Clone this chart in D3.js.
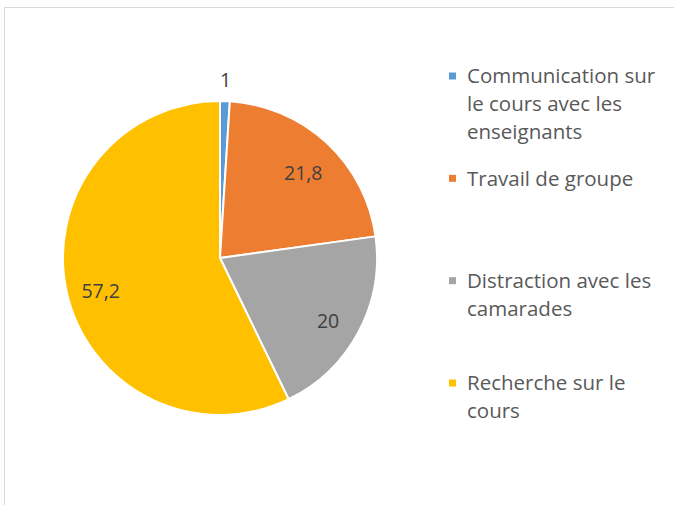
<!DOCTYPE html>
<html>
<head>
<meta charset="utf-8">
<script src="https://cdn.jsdelivr.net/npm/d3@7"></script>
<style>
  html, body { margin: 0; padding: 0; background: #fff; }
  svg { display: block; }
</style>
</head>
<body>
<svg id="chart" width="674" height="505"></svg>
<script>
// data
const categories = [
  "Communication sur le cours avec les enseignants",
  "Travail de groupe",
  "Distraction avec les camarades",
  "Recherche sur le cours"
];
const values = [1, 21.8, 20, 57.2];
const valueLabels = ["1", "21,8", "20", "57,2"];
const legendLines = [
  ["Communication sur", "le cours avec les", "enseignants"],
  ["Travail de groupe"],
  ["Distraction avec les", "camarades"],
  ["Recherche sur le", "cours"]
];
const colors = ["#5b9bd5", "#ed7d31", "#a5a5a5", "#ffc000"];

const svg = d3.select("#chart");
const font = "'Open Sans', sans-serif";

// chart area frame (bottom edge runs off the picture)
svg.append("rect")
  .attr("x", 4.5).attr("y", 7.5)
  .attr("width", 700).attr("height", 600)
  .attr("fill", "#fff")
  .attr("stroke", "#d9d9d9")
  .attr("stroke-width", 1);

const cx = 220, cy = 258, r = 157;

const pie = d3.pie().sort(null).value(d => d);
const arcs = pie(values);
const arc = d3.arc().innerRadius(0).outerRadius(r);

const g = svg.append("g").attr("transform", `translate(${cx},${cy})`);

g.selectAll("path")
  .data(arcs)
  .join("path")
    .attr("d", arc)
    .attr("fill", (d, i) => colors[i])
    .attr("stroke", "#fff")
    .attr("stroke-width", 2)
    .attr("stroke-linejoin", "round");

// data labels: tiny slice outside, others inside
const inLabel = d3.arc().innerRadius(r * 0.78).outerRadius(r * 0.78);
const outLabel = d3.arc().innerRadius(r + 21).outerRadius(r + 21);

g.selectAll("text.val")
  .data(arcs)
  .join("text")
    .attr("class", "val")
    .attr("transform", d => {
      const p = (d.data < 5 ? outLabel : inLabel).centroid(d);
      return `translate(${p[0]},${p[1]})`;
    })
    .attr("text-anchor", "middle")
    .attr("dy", d => d.data < 5 ? "0.36em" : "0.62em")
    .attr("font-family", font)
    .attr("font-size", 19.5)
    .attr("fill", "#404040")
    .text((d, i) => valueLabels[i]);

// legend
const legendX = 449, textX = 467;
const legendY = d3.scalePoint()
  .domain(categories)
  .range([76, 383]);
const lineH = 28;

const lg = svg.selectAll("g.leg")
  .data(categories)
  .join("g")
    .attr("class", "leg")
    .attr("transform", d => `translate(0,${legendY(d)})`);

lg.append("rect")
  .attr("x", legendX).attr("y", -3.5)
  .attr("width", 7).attr("height", 7)
  .attr("fill", (d, i) => colors[i]);

lg.each(function(d, i) {
  d3.select(this).selectAll("text")
    .data(legendLines[i])
    .join("text")
      .attr("x", textX)
      .attr("y", (t, j) => j * lineH)
      .attr("dy", "0.36em")
      .attr("font-family", font)
      .attr("font-size", 20.5)
      .attr("fill", "#595959")
      .text(t => t);
});
</script>
</body>
</html>
